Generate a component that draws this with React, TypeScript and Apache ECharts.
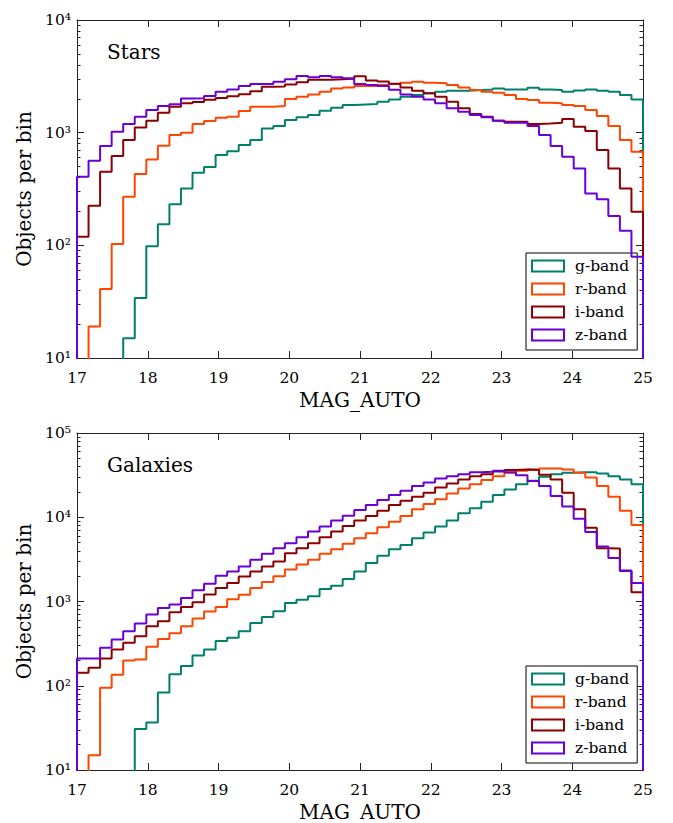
import React, { useEffect, useRef } from "react";
import * as echarts from "echarts";

// ---- data ----
const MAG_MIN = 17;
const MAG_MAX = 25;
const N_BINS = 49;
const xTicks = [17, 18, 19, 20, 21, 22, 23, 24, 25];
const bandNames = ["g-band", "r-band", "i-band", "z-band"];
const bandColors = ["#00806a", "#ff4500", "#8b0000", "#6a00d8"];
const panelTitles = ["Stars", "Galaxies"];
const yMaxes = [1e4, 1e5];
const yMin = 10;

// Stars (objects per bin); 0 = below the plotted range
const starsG = [0, 0, 0, 0, 15, 34, 98, 154, 232, 320, 441, 495, 635, 685, 776, 859, 1091, 1145, 1294, 1367, 1432, 1566, 1664, 1758, 1780, 1800, 1883, 1974, 2084, 2157, 2233, 2311, 2358, 2358, 2389, 2421, 2471, 2421, 2421, 2506, 2421, 2389, 2311, 2370, 2421, 2358, 2311, 2157, 1974];
const starsR = [0, 19, 41, 103, 270, 429, 579, 766, 952, 999, 1192, 1268, 1358, 1386, 1556, 1700, 1700, 1722, 1987, 2084, 2187, 2311, 2471, 2522, 2593, 2593, 2650, 2704, 2776, 2834, 2776, 2741, 2650, 2522, 2389, 2311, 2262, 2157, 1987, 1947, 1845, 1820, 1758, 1722, 1589, 1403, 1145, 859, 677];
const starsI = [119, 224, 450, 620, 859, 1113, 1277, 1503, 1700, 1820, 1870, 1960, 2030, 2100, 2190, 2330, 2560, 2570, 2680, 2800, 2950, 2950, 2980, 3010, 3160, 2910, 2850, 2720, 2522, 2358, 2233, 2084, 1883, 1644, 1463, 1386, 1277, 1251, 1251, 1192, 1208, 1225, 1320, 1130, 1033, 700, 482, 320, 199];
const starsZ = [406, 563, 760, 1018, 1191, 1386, 1589, 1722, 1783, 2015, 2018, 2113, 2307, 2422, 2593, 2703, 2703, 2834, 2972, 3184, 3098, 3184, 3098, 3034, 2703, 2649, 2593, 2400, 2187, 2084, 1974, 1820, 1644, 1535, 1433, 1367, 1277, 1225, 1225, 1145, 952, 760, 611, 481, 289, 257, 182, 135, 79];

// Galaxies
const galG = [0, 0, 0, 0, 0, 30.6, 36.7, 83, 137, 172, 229, 270, 339, 371, 444, 557, 656, 766, 961, 1052, 1151, 1406, 1541, 1849, 2276, 2855, 3488, 4178, 4700, 5636, 6577, 7744, 9120, 11140, 12760, 15300, 18340, 21400, 24720, 27100, 30200, 32490, 33670, 34300, 34300, 33040, 30770, 28120, 24720];
const galR = [0, 15, 95, 135, 200, 205, 290, 360, 420, 510, 630, 760, 860, 1060, 1200, 1450, 1700, 2000, 2400, 2750, 3136, 3683, 4178, 4831, 5636, 6457, 7605, 8872, 10350, 12410, 14350, 16300, 19190, 21980, 24720, 27590, 30770, 33670, 35580, 36900, 37930, 37930, 36900, 33670, 29650, 23420, 17530, 11970, 8110];
const galI = [143, 164, 211, 270, 324, 388, 510, 584, 746, 863, 979, 1207, 1446, 1657, 1987, 2276, 2607, 2990, 3751, 4297, 4922, 5796, 6763, 7893, 9120, 10360, 11970, 13970, 15720, 17530, 19540, 22590, 25210, 28120, 30770, 32490, 35000, 36500, 37000, 36500, 32000, 28000, 19500, 12420, 7500, 4300, 4250, 2339, 1285];
const galZ = [211, 211, 282, 354, 444, 548, 700, 839, 919, 1101, 1356, 1626, 2022, 2276, 2608, 3128, 3683, 4297, 4922, 5796, 6763, 7744, 9124, 10450, 12190, 13970, 16010, 18340, 20630, 23420, 25900, 28890, 30770, 32490, 34300, 34610, 35580, 34300, 31620, 26860, 23420, 17850, 13370, 9600, 6700, 4500, 3275, 2300, 1660];

const panels = [
  [starsG, starsR, starsI, starsZ],
  [galG, galR, galI, galZ],
];

const FONT = "DejaVu Serif";
const SUP = ["\u2070", "\u00b9", "\u00b2", "\u00b3", "\u2074", "\u2075"];

function stepPoints(values: number[]) {
  const w = (MAG_MAX - MAG_MIN) / N_BINS;
  const floor = 1e-3;
  const pts: number[][] = [[MAG_MIN, floor]];
  values.forEach((v, i) => {
    const y = v > 0 ? v : floor;
    pts.push([MAG_MIN + i * w, y], [MAG_MIN + (i + 1) * w, y]);
  });
  pts.push([MAG_MAX, floor]);
  return pts;
}

const gridTops = [20, 433];
const GRID_LEFT = 77;
const GRID_W = 566;
const GRID_H = 338;

function buildOption() {
  const grid = gridTops.map((t) => ({ left: GRID_LEFT, top: t, width: GRID_W, height: GRID_H, containLabel: false }));
  const xAxis: any[] = [];
  const yAxis: any[] = [];
  const series: any[] = [];
  const legend: any[] = [];
  const title: any[] = [];
  const axisLineStyle = { color: "#222", width: 1 };

  gridTops.forEach((top, p) => {
    xAxis.push({
      type: "value", gridIndex: p, min: MAG_MIN, max: MAG_MAX, interval: 1, position: "bottom",
      axisLine: { show: true, lineStyle: axisLineStyle },
      axisTick: { show: true, inside: true, length: 7, lineStyle: axisLineStyle },
      axisLabel: { show: true, margin: 12, fontFamily: FONT, fontSize: 15.5, color: "#000",
        customValues: xTicks, formatter: (v: number) => String(v) },
      splitLine: { show: false },
      name: "MAG_AUTO", nameLocation: "middle", nameGap: 32,
      nameTextStyle: { fontFamily: FONT, fontSize: 20, color: "#000" },
    });
    xAxis.push({
      type: "value", gridIndex: p, min: MAG_MIN, max: MAG_MAX, interval: 1, position: "top",
      axisLine: { show: true, lineStyle: axisLineStyle },
      axisTick: { show: true, inside: true, length: 7, lineStyle: axisLineStyle },
      axisLabel: { show: false },
      splitLine: { show: false },
    });
    const yCommon = {
      type: "log", logBase: 10, gridIndex: p, min: yMin, max: yMaxes[p],
      axisLine: { show: true, lineStyle: axisLineStyle },
      axisTick: { show: true, inside: true, length: 7, lineStyle: axisLineStyle },
      minorTick: { show: true, splitNumber: 9, length: 3.5, lineStyle: { color: "#222", width: 1 } },
      splitLine: { show: false },
      minorSplitLine: { show: false },
    };
    yAxis.push({
      ...yCommon, position: "left",
      axisLabel: { show: true, margin: 6, fontFamily: FONT, fontSize: 15.5, color: "#000",
        formatter: (v: number) => "10" + SUP[Math.round(Math.log10(v))] },
      name: "Objects per bin", nameLocation: "middle", nameGap: 43, nameRotate: 90,
      nameTextStyle: { fontFamily: FONT, fontSize: 20, color: "#000" },
    });
    yAxis.push({ ...yCommon, position: "right", axisLabel: { show: false } });

    panels[p].forEach((vals, b) => {
      series.push({
        type: "line", name: bandNames[b], xAxisIndex: p * 2, yAxisIndex: p * 2,
        data: stepPoints(vals), showSymbol: false, symbol: "none", clip: true, silent: true,
        lineStyle: { color: bandColors[b], width: 2 }, itemStyle: { color: bandColors[b] },
        z: 2 + b,
      });
    });

    legend.push({
      orient: "vertical", left: 526, top: top + 233,
      data: bandNames.map((n, i) => ({ name: n, icon: "rect",
        itemStyle: { color: "#fff", borderColor: bandColors[i], borderWidth: 2 } })),
      itemWidth: 32, itemHeight: 11, itemGap: 7,
      backgroundColor: "#fff", borderColor: "#000", borderWidth: 1, borderRadius: 0,
      padding: [5, 8, 7, 5], selectedMode: false,
      textStyle: { fontFamily: FONT, fontSize: 15.5, color: "#000", padding: [0, 0, 0, 6] },
    });

    title.push({
      text: panelTitles[p], left: 102, top: top + 17,
      textStyle: { fontFamily: FONT, fontSize: 20, fontWeight: "normal", color: "#000" },
    });
  });

  return { animation: false, backgroundColor: "#fff", grid, xAxis, yAxis, series, legend, title };
}

export default function App() {
  const ref = useRef<HTMLDivElement>(null);
  useEffect(() => {
    if (!ref.current) return;
    const chart = echarts.init(ref.current, undefined, { renderer: "svg" });
    chart.setOption(buildOption() as any);
    return () => chart.dispose();
  }, []);
  return <div ref={ref} style={{ position: "fixed", left: 0, top: 0, width: 673, height: 823 }} />;
}
